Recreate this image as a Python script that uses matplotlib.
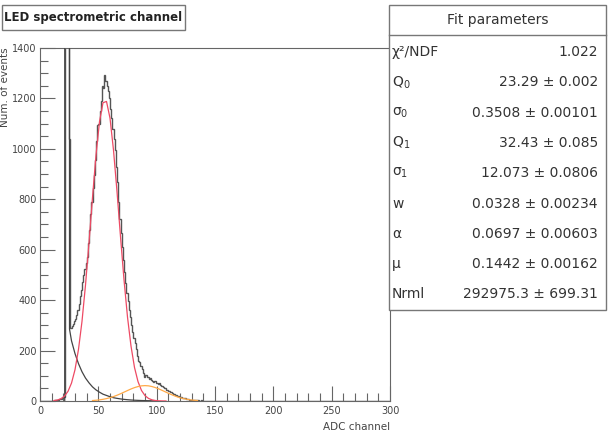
import numpy as np
import matplotlib
matplotlib.use("Agg")
import matplotlib.pyplot as plt
from matplotlib.patches import Rectangle
from matplotlib.lines import Line2D
from matplotlib.ticker import MultipleLocator


# ------ DATA ------

# histogram: counts per ADC channel, first bin = channel 10, bin width 1
first_bin = 10
counts = [
    1, 1, 2, 2, 4, 4, 6, 8, 9, 12,                              # 10-19
    16, 2600, 65000, 180000, 7000, 1040, 290, 298, 305, 318,    # 20-29
    326, 340, 362, 385, 415, 440, 470, 498, 522, 548,           # 30-39
    572, 625, 680, 740, 790, 845, 895, 955, 1030, 1095,         # 40-49
    1100, 1150, 1190, 1248, 1240, 1294, 1270, 1250, 1228, 1200, # 50-59
    1160, 1123, 1080, 1040, 996, 930, 870, 790, 720, 667,       # 60-69
    610, 560, 510, 468, 430, 395, 360, 335, 300, 275,           # 70-79
    250, 230, 205, 180, 160, 156, 140, 125, 112, 97,            # 80-89
    105, 103, 95, 88, 90, 83, 80, 76, 78, 72,                   # 90-99
    70, 66, 71, 64, 60, 56, 52, 50, 45, 42,                     # 100-109
    40, 37, 34, 30, 28, 26, 23, 21, 19, 17,                     # 110-119
    17, 14, 13, 11, 10, 9, 7, 6, 5, 4,                          # 120-129
    4, 3, 3, 2, 2, 2, 1, 1, 2, 1,                               # 130-139
    1, 0, 1, 1, 0, 0, 1, 0, 0, 1,                               # 140-149
]

# fit components (sampled every 3 channels)
red_x = [12, 15, 18, 21, 24, 27, 30, 33, 36, 39, 42, 45, 48, 51, 54, 57, 60,
         63, 66, 69, 72, 75, 78, 81, 84, 87, 90, 93, 96, 99, 102, 105, 108]
red_y = [1.7, 4.1, 9.2, 19.4, 38.3, 71, 124, 205, 316, 460, 628, 807, 975,
         1108, 1183, 1188, 1122, 995, 831, 652, 481, 333, 218, 133, 77, 41.7,
         21.3, 10.2, 4.6, 1.9, 0.8, 0.3, 0.1]

orange_x = [45, 48, 51, 54, 57, 60, 63, 66, 69, 72, 75, 78, 81, 84, 87, 90,
            93, 96, 99, 102, 105, 108, 111, 114, 117, 120, 123, 126, 129, 132, 135]
orange_y = [1.9, 3.0, 4.5, 6.7, 9.5, 13.1, 17.5, 22.8, 28.7, 35, 41.5, 47.7,
            53.1, 57.3, 60.1, 61, 60.1, 57.3, 53.1, 47.7, 41.5, 35, 28.7, 22.8,
            17.5, 13.1, 9.5, 6.7, 4.5, 3.0, 1.9]

bkg_x = [21.2, 21.6, 24.9, 25.3, 27, 30, 33, 36, 39, 42, 45, 48, 51, 54, 57,
         60, 63, 66, 69, 72, 75, 78, 81, 84, 87, 90, 93, 96, 99]
bkg_y = [0, 20000, 20000, 285, 239, 188, 148, 116, 91, 72, 56, 44, 35, 27, 22,
         17, 13, 10.5, 8.3, 6.5, 5.1, 4.0, 3.1, 2.5, 1.9, 1.5, 1.2, 0.9, 0.7]

# fit parameter table
par_names = ["χ²/NDF", "Q$_0$", "σ$_0$", "Q$_1$", "σ$_1$", "w", "α", "μ", "Nrml"]
par_values = ["1.022", "23.29 ± 0.002", "0.3508 ± 0.00101", "32.43 ± 0.085",
              "12.073 ± 0.0806", "0.0328 ± 0.00234", "0.0697 ± 0.00603",
              "0.1442 ± 0.00162", "292975.3 ± 699.31"]


# ------ FIGURE ------
W, H = 608, 433
fx = lambda x: x / W          # pixel -> figure fraction
fy = lambda y: 1 - y / H

fig = plt.figure(figsize=(6.08, 4.33), dpi=100)
ax = fig.add_axes([fx(40), fy(401), 350 / W, 353 / H])

# pad histogram with empty bins up to channel 300
hist = np.zeros(300)
hist[first_bin:first_bin + len(counts)] = counts
edges = np.arange(301)

ax.stairs(hist, edges, color="#555555", lw=1.0, zorder=2)
ax.plot(bkg_x, bkg_y, color="#444444", lw=0.9, zorder=3)
ax.plot(red_x, red_y, color="#ee4a64", lw=0.9, zorder=4)
ax.plot(orange_x, orange_y, color="#ffaa48", lw=0.9, zorder=4)

ax.set_xlim(0, 300)
ax.set_ylim(0, 1400)
ax.xaxis.set_major_locator(MultipleLocator(50))
ax.xaxis.set_minor_locator(MultipleLocator(10))
ax.yaxis.set_major_locator(MultipleLocator(200))
ax.yaxis.set_minor_locator(MultipleLocator(50))
ax.tick_params(which="both", direction="in", colors="#666666",
               labelcolor="#444444", labelsize=7, width=0.8)
ax.tick_params(which="major", length=11)
ax.tick_params(which="minor", length=5.5)
ax.tick_params(axis="x", pad=3.5)
ax.tick_params(axis="y", pad=2.4)
for s in ax.spines.values():
    s.set_color("#666666")
    s.set_linewidth(0.8)

fig.text(fx(390), fy(422), "ADC channel", ha="right", va="top",
         fontsize=7.5, color="#444444")
fig.text(fx(5), fy(47), "Num. of events", rotation=90, ha="center",
         va="top", fontsize=7.5, color="#444444")

# title box
fig.add_artist(Rectangle((fx(2), fy(30)), 183 / W, 25 / H,
                         transform=fig.transFigure, facecolor="white",
                         edgecolor="#777777", lw=1.0))
fig.text(fx(93.5), fy(17.5), "LED spectrometric channel", ha="center",
         va="center", fontsize=8.5, fontweight="bold", color="#222222")

# stats box
fig.add_artist(Rectangle((fx(389), fy(310)), (606 - 389) / W, (310 - 5) / H,
                         transform=fig.transFigure, facecolor="white",
                         edgecolor="#777777", lw=1.0))
fig.add_artist(Line2D([fx(389), fx(606)], [fy(35), fy(35)],
                      transform=fig.transFigure, color="#777777", lw=1.0))
fig.text(fx(497.5), fy(20), "Fit parameters", ha="center", va="center",
         fontsize=10, color="#333333")
for i in range(len(par_names)):
    ypix = 52 + i * 30.3
    fig.text(fx(392), fy(ypix), par_names[i], ha="left", va="center",
             fontsize=10, color="#333333")
    fig.text(fx(598), fy(ypix), par_values[i], ha="right", va="center",
             fontsize=10, color="#333333")

fig.savefig("out.png", dpi=100)
